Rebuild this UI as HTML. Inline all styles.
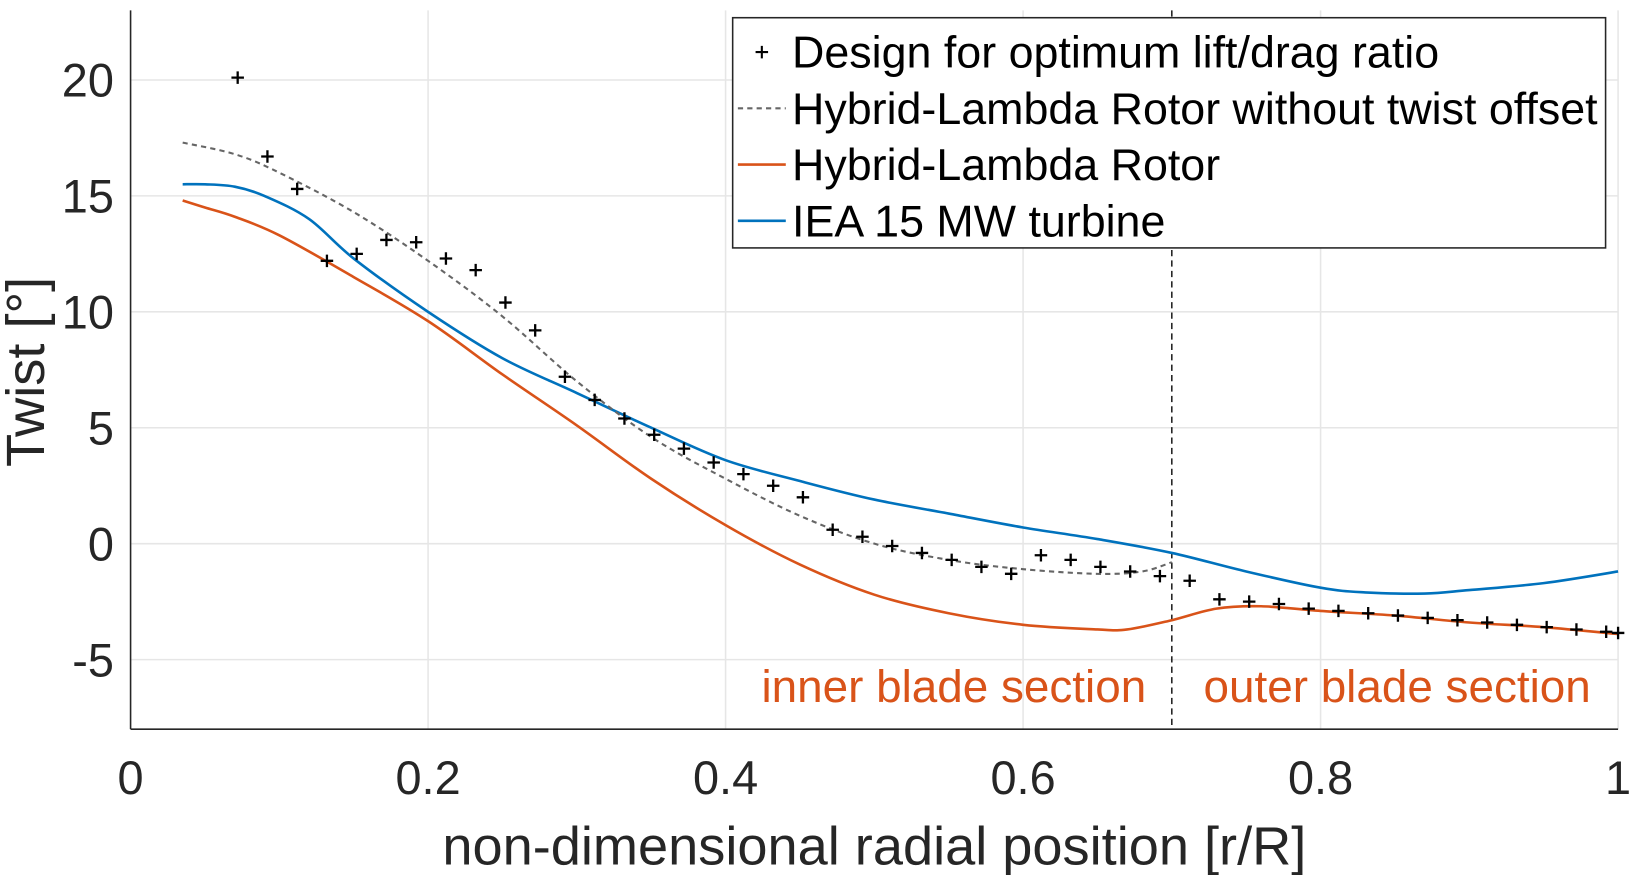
<!DOCTYPE html>
<html><head><meta charset="utf-8">
<style>
html,body{margin:0;padding:0;background:#fff;}
svg{display:block;font-family:"Liberation Sans",Arial,sans-serif;}
</style></head>
<body>
<svg id="chart" width="1632" height="875" viewBox="0 0 1566 840" xmlns="http://www.w3.org/2000/svg">
<g id="grid"></g>
<g id="series"></g>
<g id="axes"></g>
<text x="0" y="0" transform="translate(42,357) rotate(-90)" text-anchor="middle" font-size="52" fill="#262626">Twist [°]</text>
<text x="839" y="830" text-anchor="middle" font-size="52" fill="#262626">non-dimensional radial position [r/R]</text>
<text x="1100" y="674" text-anchor="end" font-size="44" fill="#d95319">inner blade section</text>
<text x="1155" y="674" font-size="44" fill="#d95319">outer blade section</text>
<g>
<rect x="703" y="17" width="838" height="221" fill="#fff" stroke="#262626" stroke-width="1.5"/>
<path d="M725,50H737M731,44V56" stroke="#000" stroke-width="2"/>
<text x="760" y="65" font-size="43" fill="#000">Design for optimum lift/drag ratio</text>
<line x1="708" y1="104" x2="754" y2="104" stroke="#666" stroke-width="2" stroke-dasharray="5,4"/>
<text x="760" y="119" font-size="43" fill="#000">Hybrid-Lambda Rotor without twist offset</text>
<line x1="708" y1="158" x2="754" y2="158" stroke="#d95319" stroke-width="2.5"/>
<text x="760" y="173" font-size="43" fill="#000">Hybrid-Lambda Rotor</text>
<line x1="708" y1="212" x2="754" y2="212" stroke="#0072bd" stroke-width="2.5"/>
<text x="760" y="227" font-size="43" fill="#000">IEA 15 MW turbine</text>
</g>
</svg>
<script>
const xTicks=[0,0.2,0.4,0.6,0.8,1];
const xTickLabels=["0","0.2","0.4","0.6","0.8","1"];
const yTicks=[-5,0,5,10,15,20];
const yTickLabels=["-5","0","5","10","15","20"];
const designX=[0.072,0.092,0.112,0.132,0.152,0.172,0.192,0.212,0.232,0.252,0.272,0.292,0.312,0.332,0.352,0.372,0.392,0.412,0.432,0.452,0.472,0.492,0.512,0.532,0.552,0.572,0.592,0.612,0.632,0.652,0.672,0.692,0.712,0.732,0.752,0.772,0.792,0.812,0.832,0.852,0.872,0.892,0.912,0.932,0.952,0.972,0.992,1.0];
const designY=[20.1,16.7,15.3,12.2,12.5,13.1,13.0,12.3,11.8,10.4,9.2,7.2,6.2,5.4,4.7,4.1,3.5,3.0,2.5,2.0,0.6,0.3,-0.1,-0.4,-0.7,-1.0,-1.3,-0.5,-0.7,-1.0,-1.2,-1.4,-1.6,-2.4,-2.5,-2.6,-2.8,-2.9,-3.0,-3.1,-3.2,-3.3,-3.4,-3.5,-3.6,-3.7,-3.8,-3.85];
const dashX=[0.035,0.07,0.1,0.15,0.2,0.25,0.3,0.35,0.4,0.45,0.5,0.55,0.6,0.65,0.68,0.7];
const dashY=[17.3,16.8,16.0,14.3,12.2,9.8,7.0,4.6,2.8,1.2,0.0,-0.7,-1.1,-1.3,-1.2,-0.8];
const hybridX=[0.035,0.05,0.07,0.1,0.15,0.2,0.25,0.3,0.35,0.4,0.45,0.5,0.55,0.6,0.65,0.67,0.7,0.73,0.76,0.8,0.85,0.9,0.95,1.0];
const hybridY=[14.8,14.5,14.1,13.3,11.5,9.6,7.3,5.1,2.8,0.8,-0.9,-2.2,-3.0,-3.5,-3.7,-3.7,-3.3,-2.8,-2.7,-2.9,-3.1,-3.4,-3.6,-3.9];
const ieaX=[0.035,0.05,0.07,0.09,0.12,0.15,0.2,0.25,0.3,0.35,0.4,0.45,0.5,0.55,0.6,0.65,0.7,0.75,0.8,0.83,0.87,0.9,0.95,1.0];
const ieaY=[15.5,15.5,15.4,15.0,14.0,12.3,10.0,8.0,6.5,5.0,3.6,2.7,1.9,1.3,0.7,0.2,-0.4,-1.2,-1.9,-2.1,-2.15,-2.0,-1.7,-1.2];
const boundaryX=0.7;

const L=125,R=1553,T=10,B=700,Y0=-8,Y1=23;
const sx=v=>L+v*(R-L);
const sy=v=>B-(v-Y0)/(Y1-Y0)*(B-T);
const NS="http://www.w3.org/2000/svg";
function mk(tag,attrs,parent){const e=document.createElementNS(NS,tag);for(const k in attrs)e.setAttribute(k,attrs[k]);parent.appendChild(e);return e;}
const grid=document.getElementById('grid'),axes=document.getElementById('axes'),ser=document.getElementById('series');
xTicks.forEach((t,i)=>{
 const g=mk('line',{x1:sx(t),x2:sx(t),y1:T,y2:B,stroke:'#e6e6e6','stroke-width':1.5},grid);
 
 
 const tx=mk('text',{x:sx(t),y:B+62,'text-anchor':'middle','font-size':45,fill:'#262626'},axes);
 tx.textContent=xTickLabels[i];
 
 
});
yTicks.forEach((t,i)=>{
 const g=mk('line',{x1:L,x2:R,y1:sy(t),y2:sy(t),stroke:'#e6e6e6','stroke-width':1.5},grid);
 
 
 const tx=mk('text',{x:L-16,y:sy(t)+16,'text-anchor':'end','font-size':45,fill:'#262626'},axes);
 tx.textContent=yTickLabels[i];
 
 
});
const xa=mk('line',{x1:L,x2:R,y1:B,y2:B,stroke:'#262626','stroke-width':1.5},axes);


const ya=mk('line',{x1:L,x2:L,y1:T,y2:B,stroke:'#262626','stroke-width':1.5},axes);


const bl=mk('line',{x1:sx(boundaryX),x2:sx(boundaryX),y1:T,y2:B,stroke:'#000','stroke-width':1.3,'stroke-dasharray':'6,4'},ser);


function pathOf(xs,ys){
 const P=xs.map((x,i)=>[sx(x),sy(ys[i])]);
 let d='M'+P[0][0].toFixed(1)+','+P[0][1].toFixed(1);
 for(let i=0;i<P.length-1;i++){
  const p0=P[Math.max(0,i-1)],p1=P[i],p2=P[i+1],p3=P[Math.min(P.length-1,i+2)];
  const c1=[p1[0]+(p2[0]-p0[0])/6,p1[1]+(p2[1]-p0[1])/6];
  const c2=[p2[0]-(p3[0]-p1[0])/6,p2[1]-(p3[1]-p1[1])/6];
  d+=' C'+c1[0].toFixed(1)+','+c1[1].toFixed(1)+' '+c2[0].toFixed(1)+','+c2[1].toFixed(1)+' '+p2[0].toFixed(1)+','+p2[1].toFixed(1);
 }
 return d;
}
const p1=mk('path',{d:pathOf(ieaX,ieaY),fill:'none',stroke:'#0072bd','stroke-width':2.5},ser);


const p2=mk('path',{d:pathOf(hybridX,hybridY),fill:'none',stroke:'#d95319','stroke-width':2.5},ser);


const p3=mk('path',{d:pathOf(dashX,dashY),fill:'none',stroke:'#666','stroke-width':2,'stroke-dasharray':'5,4'},ser);


designX.forEach((x,i)=>{
 const cx=sx(x),cy=sy(designY[i]);
 const p=mk('path',{d:`M${cx-6},${cy}H${cx+6}M${cx},${cy-6}V${cy+6}`,stroke:'#000','stroke-width':2.2},ser);
 
 
});
</script>
</body></html>
